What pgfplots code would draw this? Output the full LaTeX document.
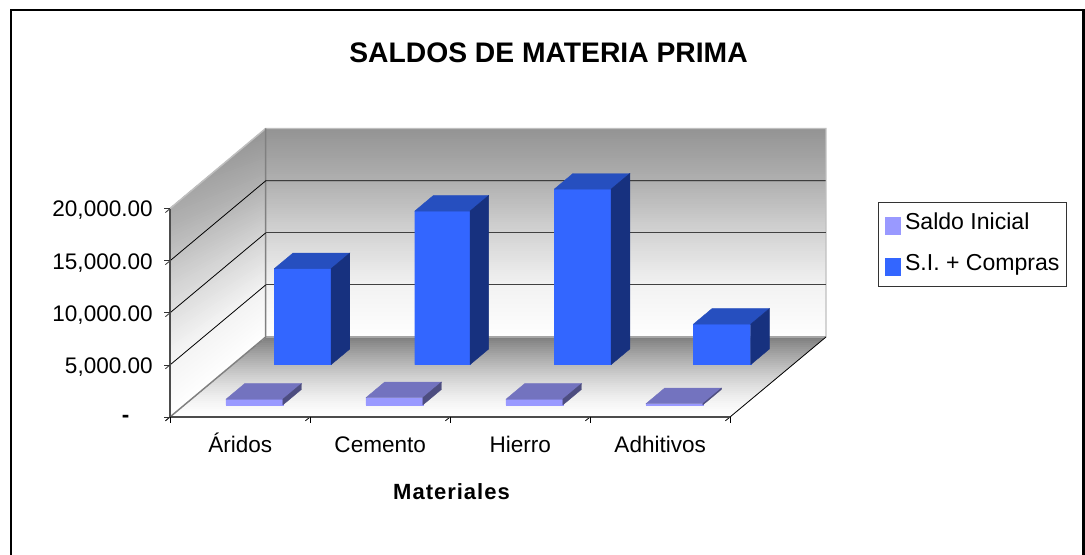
\documentclass[border=0pt]{standalone}
\usepackage{fontspec}
\setmainfont{Liberation Sans}
\usepackage{pgfplots}
\pgfplotsset{compat=1.18}
\definecolor{bluefront}{HTML}{3366FF}
\definecolor{bluetop}{HTML}{264FBF}
\definecolor{blueside}{HTML}{17317F}
\definecolor{lilacfront}{HTML}{9999FF}
\definecolor{lilactop}{HTML}{7373BF}
\definecolor{lilacside}{HTML}{4D4D80}
% one 3-D column: x0 x1 y0 y1 height front top side
\newcommand{\column}[8]{%
  \addplot3[fill=#6,draw=#6,line width=0.3pt,forget plot] coordinates {(#1,#3,0) (#2,#3,0) (#2,#3,#5) (#1,#3,#5) (#1,#3,0)};
  \addplot3[fill=#7,draw=#7,line width=0.3pt,forget plot] coordinates {(#1,#3,#5) (#2,#3,#5) (#2,#4,#5) (#1,#4,#5) (#1,#3,#5)};
  \addplot3[fill=#8,draw=#8,line width=0.3pt,forget plot] coordinates {(#2,#3,0) (#2,#4,0) (#2,#4,#5) (#2,#3,#5) (#2,#3,0)};
}
\begin{document}
\begin{tikzpicture}
\begin{scope}[x=0.75pt,y=-0.75pt,yshift=416.25pt]
  \useasboundingbox (0,0) rectangle (1085,555);
  \fill[white] (0,0) rectangle (1085,555);
  \draw[black,line width=2pt] (11,556) -- (11,10) -- (1083.5,10) -- (1083.5,556);
  % floor, dark at the back
  \foreach \s in {1,0.975,...,0.0} {
    \pgfmathsetmacro\g{1-0.5*pow(\s,1.5)}
    \definecolor{cc}{gray}{\g}
    \fill[cc] (170,417) -- (730,417) -- ({730+95.7*\s},{417-80*\s}) -- ({170+95.7*\s},{417-80*\s}) -- cycle;
  }
  % back wall, dark at the top
  \foreach \t in {1,0.99,...,0.0} {
    \pgfmathsetmacro\g{\t<0.25 ? 1-0.2*\t : (\t<0.5 ? 0.95-0.48*(\t-0.25) : (\t<0.75 ? 0.83-0.56*(\t-0.5) : 0.69-0.44*(\t-0.75)))}
    \definecolor{cc}{gray}{\g}
    \fill[cc] (265.7,337) -- (826,337) -- (826,{337-208.5*\t}) -- (265.7,{337-208.5*\t}) -- cycle;
  }
  % side wall, lighter towards the front
  \begin{scope}
    \clip (170,417) -- (265.7,337) -- (265.7,128.5) -- (170,208.5) -- cycle;
    \foreach \t in {1,0.99,...,0.0} {
      \pgfmathsetmacro\g{\t<0.25 ? 1-0.2*\t : (\t<0.5 ? 0.95-0.48*(\t-0.25) : (\t<0.75 ? 0.83-0.56*(\t-0.5) : 0.69-0.44*(\t-0.75)))}
      \definecolor{cc}{gray}{\g}
      \fill[cc] (170,417) -- (265.7,417) -- (265.7,{337-208.5*\t}) -- (170,{417-260.6*\t}) -- cycle;
    }
  \end{scope}
  \draw[black!25,line width=1.1pt] (170,208.5) -- (265.7,128.5) -- (826,128.5) -- (826,337);
  \draw[black!35,line width=0.8pt] (265.7,337) -- (826,337);
  \draw[black!50,line width=1.1pt] (265.7,128.5) -- (265.7,337) -- (170,417);
  \draw[black,line width=0.6pt] (730,417) -- (826,337);
  \node[font=\fontsize{21.2pt}{24pt}\bfseries] at (548.5,53) {SALDOS DE MATERIA PRIMA};
  \node[font=\fontsize{16.5pt}{20pt}\bfseries\addfontfeature{LetterSpace=4.5}] at (451.5,492) {Materiales};
\end{scope}
\begin{axis}[
  at={(127.5pt,-312.75pt+416.25pt)}, anchor=origin,
  x={(105pt,0pt)}, y={(71.8pt,60pt)}, z={(0pt,0.00782pt)},
  xmin=0,xmax=4,ymin=0,ymax=1,zmin=0,zmax=20000,
  clip=false,
  axis lines*=left,
  axis on top,
  axis line style={black!70,line width=1.1pt},
  y axis line style={draw=none},
  ytick=\empty,
  scaled z ticks=false,
  ztick={0,5000,10000,15000,20000},
  zticklabels={{\raisebox{-3pt}{\textbf{-}}\rule{17.5pt}{0pt}},{5,000.00},{10,000.00},{15,000.00},{20,000.00}},
  xtick={0.5,1.5,2.5,3.5},
  xticklabels={Áridos,Cemento,Hierro,Adhitivos},
  minor xtick={0,1,2,3,4},
  tick align=outside,
  major tick length=4.5pt,
  minor tick length=4.5pt,
  major x tick style={draw=none},
  minor x tick style={black,line width=0.6pt},
  z tick style={black!80,line width=0.6pt},
  ticklabel style={font=\fontsize{16.9pt}{19pt}\selectfont},
  xticklabel style={anchor=north,xshift=3.6pt,yshift=-7.5pt,text height=12.5pt,text depth=0pt},
  zticklabel style={anchor=east,xshift=-6pt,yshift=1.5pt},
  legend image code/.code={\fill[#1] (1pt,-7.9pt) rectangle (12.25pt,4.85pt);\path (15pt,0pt);},
  legend cell align=left,
  legend style={
    at={(axis cs:5.057,0,20673)}, anchor=north west,
    draw=black!80, line width=0.7pt, fill=white,
    font=\fontsize{17.3pt}{19pt}\selectfont,
    inner xsep=5.25pt, inner ysep=8.25pt,
    row sep=15pt,
    nodes={inner sep=0pt,text height=12pt,text depth=3.5pt},
  },
]
% gridlines on the two walls
\addplot3[black,line width=0.6pt,forget plot] coordinates {(0,0,15000) (0,1,15000) (4,1,15000)};
\addplot3[black!75,line width=0.8pt,forget plot] coordinates {(0,1,10000) (4,1,10000)};
\addplot3[black!75,line width=0.8pt,forget plot] coordinates {(0,1,5000) (4,1,5000)};
\addplot3[black,line width=0.6pt,forget plot] coordinates {(0,0,10000) (0,1,10000)};
\addplot3[black,line width=0.6pt,forget plot] coordinates {(0,0,5000) (0,1,5000)};
% S.I. + Compras (rear row)
\column{0.297}{0.703}{0.655}{0.85}{9210}{bluefront}{bluetop}{blueside}
\column{1.30}{1.695}{0.655}{0.85}{14740}{bluefront}{bluetop}{blueside}
\column{2.297}{2.703}{0.655}{0.85}{16850}{bluefront}{bluetop}{blueside}
\column{3.29}{3.70}{0.655}{0.85}{3875}{bluefront}{bluetop}{blueside}
% Saldo Inicial (front row)
\column{0.297}{0.703}{0.15}{0.345}{550}{lilacfront}{lilactop}{lilacside}
\column{1.297}{1.703}{0.15}{0.345}{700}{lilacfront}{lilactop}{lilacside}
\column{2.297}{2.703}{0.15}{0.345}{550}{lilacfront}{lilactop}{lilacside}
\column{3.297}{3.703}{0.15}{0.345}{120}{lilacfront}{lilactop}{lilacside}
\addlegendimage{lilacfront}
\addlegendentry{Saldo Inicial}
\addlegendimage{bluefront}
\addlegendentry{S.I. + Compras}
\end{axis}
\end{tikzpicture}
\end{document}
